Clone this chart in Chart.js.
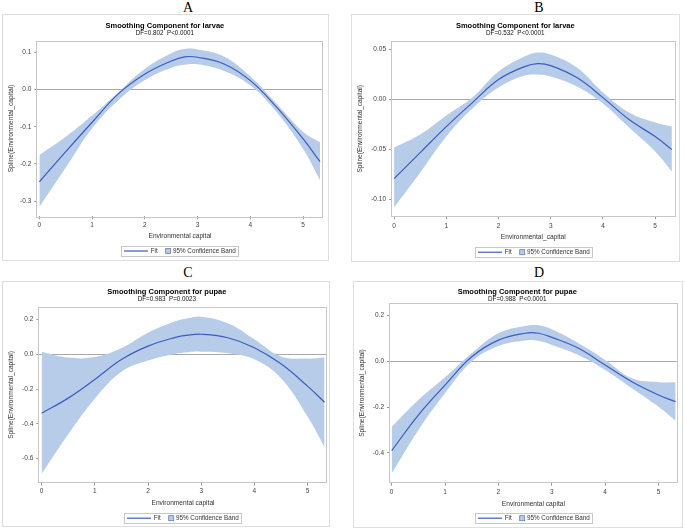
<!DOCTYPE html>
<html>
<head>
<meta charset="utf-8">
<script src="https://cdn.jsdelivr.net/npm/chart.js@4/dist/chart.umd.min.js"></script>
<style>
  body { margin: 0; width: 685px; height: 530px; background: #fff; position: relative; overflow: hidden; }
  .painel { position: absolute; border: 1px solid #dedede; box-sizing: border-box; }
  .letra { position: absolute; font-family: "Liberation Serif", "Times New Roman", serif; font-size: 14px; line-height: 14px; color: #000; transform: translate(-50%, -50%); }
  canvas { position: absolute; }
</style>
</head>
<body>
<script>
// eixo x (Environmental capital) - mesmo para os 4 paineis
const xCapital = [0, 0.5, 1, 1.5, 2, 2.5, 2.75, 3, 3.5, 4, 4.5, 5, 5.32];
const xTicks = [0, 1, 2, 3, 4, 5];

// A - larvae
const fitA   = [-0.248, -0.167, -0.088, -0.011, 0.042, 0.077, 0.088, 0.087, 0.069, 0.024, -0.048, -0.133, -0.194];
const upperA = [-0.176, -0.127, -0.070, -0.007, 0.056, 0.098, 0.109, 0.108, 0.089, 0.035, -0.039, -0.114, -0.142];
const lowerA = [-0.316, -0.210, -0.104, -0.028, 0.026, 0.059, 0.067, 0.068, 0.050, 0.011, -0.061, -0.160, -0.244];
const yTicksA = [-0.3, -0.2, -0.1, 0, 0.1];

// B - larvae
const fitB   = [-0.079, -0.053, -0.027, -0.003, 0.020, 0.033, 0.036, 0.034, 0.022, 0.002, -0.020, -0.037, -0.050];
const upperB = [-0.048, -0.035, -0.016, 0.002, 0.028, 0.043, 0.047, 0.045, 0.032, 0.007, -0.013, -0.023, -0.027];
const lowerB = [-0.108, -0.073, -0.037, -0.009, 0.012, 0.024, 0.025, 0.023, 0.013, -0.004, -0.028, -0.052, -0.072];
const yTicksB = [-0.10, -0.05, 0, 0.05];

// C - pupae
const fitC   = [-0.339, -0.252, -0.145, -0.030, 0.047, 0.096, 0.110, 0.115, 0.095, 0.038, -0.055, -0.183, -0.276];
const upperC = [0.015, -0.019, -0.016, 0.036, 0.124, 0.188, 0.207, 0.216, 0.178, 0.086, -0.013, -0.025, -0.017];
const lowerC = [-0.687, -0.460, -0.255, -0.100, -0.036, 0.002, 0.012, 0.015, 0.006, -0.029, -0.138, -0.358, -0.534];
const yTicksC = [-0.6, -0.4, -0.2, 0, 0.2];

// D - pupae
const fitD   = [-0.391, -0.235, -0.104, 0.020, 0.093, 0.123, 0.123, 0.105, 0.057, -0.016, -0.089, -0.147, -0.177];
const upperD = [-0.286, -0.169, -0.070, 0.035, 0.123, 0.155, 0.158, 0.140, 0.079, 0.006, -0.074, -0.091, -0.091];
const lowerD = [-0.491, -0.301, -0.140, -0.001, 0.067, 0.091, 0.090, 0.072, 0.028, -0.038, -0.118, -0.199, -0.260];
const yTicksD = [-0.4, -0.2, 0, 0.2];

const titulos = ['Smoothing Component for larvae', 'Smoothing Component for larvae',
                 'Smoothing Component for pupae', 'Smoothing Component for pupae'];
const subtitulos = ['DF=0.802  P<0.0001', 'DF=0.532  P<0.0001', 'DF=0.983  P=0.0023', 'DF=0.988  P<0.0001'];
const titulosX = ['Environmental capital', 'Environmental_capital', 'Environmental capital', 'Environmental capital'];
const tituloY = 'Spline(Environmental_capital)';
const letras = ['A', 'B', 'C', 'D'];

const corFit = '#3d5cbf';
const corBanda = 'rgb(182, 204, 233)';
const fonte = '"Liberation Sans", Arial, sans-serif';
Chart.defaults.font.family = fonte;

// posicoes de cada painel (px da pagina / do canvas)
const paineis = [
  { fit: fitA, up: upperA, lo: lowerA, yt: yTicksA, dec: 1, xMin: -0.04, xMax: 5.37, yMin: -0.341, yMax: 0.1315,
    left: 2, top: 14, w: 327, h: 247, area: [35.3, 26.7, 320.7, 202.3],
    tit: 11.8, sub: 19, tick: 211, xTit: 222, leg: 236.5, yTit: 9, letraX: 188, letraY: 8 },
  { fit: fitB, up: upperB, lo: lowerB, yt: yTicksB, dec: 2, xMin: -0.04, xMax: 5.37, yMin: -0.1167, yMax: 0.0583,
    left: 351, top: 14, w: 329, h: 248, area: [41, 27.3, 323.5, 202.3],
    tit: 12, sub: 19.7, tick: 212, xTit: 223.3, leg: 237.7, yTit: 9, letraX: 539, letraY: 8 },
  { fit: fitC, up: upperC, lo: lowerC, yt: yTicksC, dec: 1, xMin: -0.044, xMax: 5.36, yMin: -0.737, yMax: 0.27,
    left: 2, top: 281, w: 328, h: 246, area: [37.3, 26.3, 324.7, 201.5],
    tit: 10.7, sub: 18.3, tick: 210.7, xTit: 222.3, leg: 236.7, yTit: 9, letraX: 188, letraY: 273 },
  { fit: fitD, up: upperD, lo: lowerD, yt: yTicksD, dec: 1, xMin: -0.031, xMax: 5.34, yMin: -0.531, yMax: 0.254,
    left: 353, top: 281, w: 330, h: 247, area: [37, 22.3, 323.7, 201.7],
    tit: 10.7, sub: 18.3, tick: 211.3, xTit: 223.3, leg: 236.7, yTit: 8.7, letraX: 539, letraY: 273 }
];

// moldura da area do grafico + legenda no estilo SAS
const molduraLegenda = {
  id: 'molduraLegenda',
  afterDraw(chart, args, opts) {
    const { ctx, chartArea: a } = chart;
    ctx.save();
    ctx.strokeStyle = '#c6c6c6';
    ctx.lineWidth = 1;
    ctx.strokeRect(Math.round(a.left) - 0.5, Math.round(a.top) + 0.5,
                   Math.round(a.right - a.left) + 1, Math.round(a.bottom - a.top));

    const txtFit = chart.data.datasets[0].label;
    const txtBanda = chart.data.datasets[1].label;
    ctx.font = '6.3px ' + fonte;
    const w1 = ctx.measureText(txtFit).width;
    const w2 = ctx.measureText(txtBanda).width;
    const largura = 3 + 24 + 2.7 + w1 + 8 + 5 + 2.3 + w2 + 2.6;
    let x = Math.round((a.left + a.right) / 2 - largura / 2);
    const y = opts.y;
    ctx.strokeStyle = '#c8c8c8';
    ctx.strokeRect(x + 0.5, Math.round(y - 5) + 0.5, Math.round(largura), 10);

    ctx.strokeStyle = corFit;
    ctx.lineWidth = 1.2;
    ctx.beginPath();
    ctx.moveTo(x + 3, y + 0.5);
    ctx.lineTo(x + 27, y + 0.5);
    ctx.stroke();

    ctx.fillStyle = '#333';
    ctx.textBaseline = 'middle';
    ctx.fillText(txtFit, x + 29.7, y + 0.5);

    const xq = x + 29.7 + w1 + 8;
    ctx.fillStyle = corBanda;
    ctx.fillRect(xq, y - 2, 5, 5);
    ctx.strokeStyle = '#6f7f9f';
    ctx.lineWidth = 0.8;
    ctx.strokeRect(xq, y - 2, 5, 5);

    ctx.fillStyle = '#333';
    ctx.fillText(txtBanda, xq + 7.3, y + 0.5);
    ctx.restore();
  }
};

function criarPainel(p, i) {
  const caixa = document.createElement('div');
  caixa.className = 'painel';
  caixa.style.cssText = `left:${p.left}px;top:${p.top}px;width:${p.w}px;height:${p.h}px;`;
  const letra = document.createElement('div');
  letra.className = 'letra';
  letra.textContent = letras[i];
  letra.style.left = p.letraX + 'px';
  letra.style.top = p.letraY + 'px';
  const cv = document.createElement('canvas');
  cv.width = p.w; cv.height = p.h;
  cv.style.left = p.left + 'px'; cv.style.top = p.top + 'px';
  document.body.append(caixa, letra, cv);

  const [aL, aT, aR, aB] = p.area;
  const lhEixo = 6.6 * 1.2, lhTick = 6.5 * 1.2;
  const padL = p.yTit - lhEixo / 2;
  const alturaX = p.xTit + lhEixo / 2 - aB;

  const pontos = arr => xCapital.map((x, k) => ({ x: x, y: arr[k] }));

  new Chart(cv.getContext('2d'), {
    type: 'line',
    data: {
      datasets: [
        { label: 'Fit', data: pontos(p.fit), borderColor: corFit, borderWidth: 1.2,
          pointRadius: 0, tension: 0.4, fill: false, order: 0 },
        { label: '95% Confidence Band', data: pontos(p.up), borderWidth: 0, borderColor: 'transparent',
          pointRadius: 0, tension: 0.4, fill: '+1', backgroundColor: corBanda, order: 1 },
        { label: '', data: pontos(p.lo), borderWidth: 0, borderColor: 'transparent',
          pointRadius: 0, tension: 0.4, fill: false, order: 2 }
      ]
    },
    options: {
      responsive: false,
      animation: false,
      layout: { padding: { left: padL, right: p.w - aR, top: 0, bottom: p.h - aB - alturaX } },
      plugins: {
        legend: { display: false },
        tooltip: { enabled: false },
        title: { display: true, text: titulos[i], color: '#000',
                 font: { size: 7.5, weight: 'bold', lineHeight: 1 },
                 padding: { top: p.tit - 3.75, bottom: 0 } },
        subtitle: { display: true, text: subtitulos[i], color: '#111',
                    font: { size: 6.3, lineHeight: 1 },
                    padding: { top: p.sub - p.tit - 6.9, bottom: aT - p.sub - 3.15 } },
        molduraLegenda: { y: p.leg }
      },
      scales: {
        x: {
          type: 'linear', min: p.xMin, max: p.xMax,
          afterBuildTicks: s => { s.ticks = xTicks.map(v => ({ value: v })); },
          afterFit: s => { s.height = alturaX; },
          border: { display: false },
          grid: { drawOnChartArea: false, tickLength: 3, tickColor: '#9a9a9a' },
          ticks: { font: { size: 6.5 }, color: '#444', maxRotation: 0,
                   padding: p.tick - lhTick / 2 - 3 - aB, callback: v => String(v) },
          title: { display: true, text: titulosX[i], color: '#333', font: { size: 6.6 }, padding: 0 }
        },
        y: {
          min: p.yMin, max: p.yMax, z: 1,
          afterBuildTicks: s => { s.ticks = p.yt.map(v => ({ value: v })); },
          afterFit: s => { s.width = aL - padL; },
          border: { display: false },
          grid: { color: c => (c.tick && Math.abs(c.tick.value) < 1e-9) ? '#a8a8a8' : 'transparent',
                  tickLength: 3, tickColor: '#9a9a9a' },
          ticks: { font: { size: 6.5 }, color: '#444', padding: 3,
                   callback: v => (Math.abs(v) < 1e-9 ? 0 : v).toFixed(p.dec) },
          title: { display: true, text: tituloY, color: '#333', font: { size: 6.6 }, padding: 0 }
        }
      }
    },
    plugins: [molduraLegenda]
  });
}

paineis.forEach(criarPainel);
</script>
</body>
</html>
